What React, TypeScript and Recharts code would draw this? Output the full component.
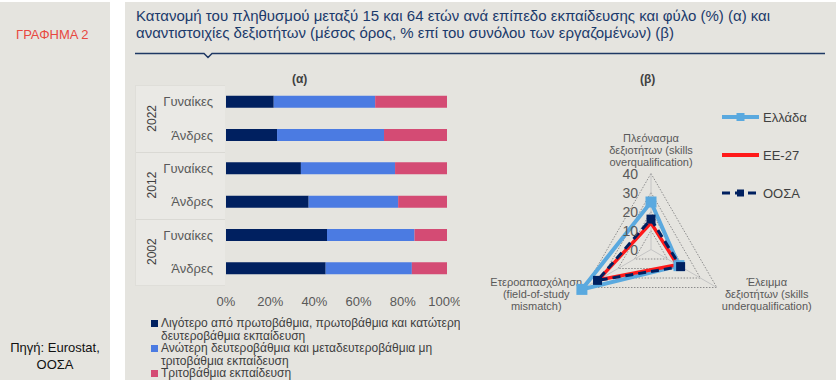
import React from 'react';
import {
  BarChart, Bar, XAxis, YAxis, Legend,
  RadarChart, Radar, PolarGrid, PolarAngleAxis, PolarRadiusAxis,
} from 'recharts';

// (α) rows top to bottom: 2022, 2012, 2002 x Γυναίκες / Άνδρες
const years = ['2022', '2012', '2002'];
const sexes = ['Γυναίκες', 'Άνδρες'];
const lowEdu = [21.6, 23.1, 33.9, 37.4, 45.7, 45.1];
const midEdu = [45.9, 48.4, 42.6, 40.5, 39.6, 39.0];
const highEdu = [32.5, 28.5, 23.5, 22.1, 14.7, 15.9];
const pctTicks = [0, 20, 40, 60, 80, 100];
const eduKeys = ['low', 'mid', 'high'];
const eduNames = [
  'Λιγότερο από πρωτοβάθμια, πρωτοβάθμια και κατώτερη\nδευτεροβάθμια εκπαίδευση',
  'Ανώτερη δευτεροβάθμια και μεταδευτεροβάθμια μη\nτριτοβάθμια εκπαίδευση',
  'Τριτοβάθμια εκπαίδευση',
];

// (β) skills mismatch
const skillAxes = [
  'Πλεόνασμα\nδεξιοτήτων (skills\noverqualification)',
  'Έλειμμα\nδεξιοτήτων (skills\nunderqualification)',
  'Ετεροαπασχόληση\n(field-of-study\nmismatch)',
];
const greece = [25, 17, 42];
const eu27 = [14, 16, 32];
const oecd = [16, 18, 32.5];
const radarTicks = [0, 10, 20, 30, 40];
const radarKeys = ['gr', 'eu', 'oecd'];

const FONT = "'Liberation Sans', Arial, sans-serif";
const NARROW = "'Liberation Sans Narrow', 'Arial Narrow', " + FONT;
const NAVY = '#002060';
const BLUE = '#4B7BE2';
const PINK = '#D44B74';
const LIGHTBLUE = '#5AA9DF';
const RED = '#FF1A1A';

const rows = years.flatMap((y, i) =>
  sexes.map((s, j) => ({
    key: `${y}|${s}`,
    low: lowEdu[i * 2 + j],
    mid: midEdu[i * 2 + j],
    high: highEdu[i * 2 + j],
  }))
);

const radarData = skillAxes.map((a, i) => ({ axis: a, gr: greece[i], eu: eu27[i], oecd: oecd[i] }));

const inOrder = (payload: any[] = [], keys: string[]) =>
  [...payload].sort((a, b) => keys.indexOf(a.dataKey) - keys.indexOf(b.dataKey));

const RowTick = (props: any) => {
  const { x, y, payload } = props;
  const [year, sex] = String(payload.value).split('|');
  return (
    <g>
      <text x={x - 13} y={y} dy={4.5} textAnchor="end" fontSize={13} fill="#595959" fontFamily={FONT}>{sex}</text>
      {sex === sexes[0] && (
        <text transform={`translate(${x - 74},${y + 16.7}) rotate(-90)`} textAnchor="middle" dy={4}
          fontSize={12} fill="#404040" fontFamily={FONT}>{year}</text>
      )}
    </g>
  );
};

const BarLegend = (props: any) => (
  <div style={{ fontFamily: FONT, fontSize: 12, color: '#404040', lineHeight: '13px' }}>
    {inOrder(props.payload, eduKeys).map((p: any, i: number) => (
      <div key={i} style={{ position: 'relative', height: 25, paddingLeft: 10, whiteSpace: 'pre' }}>
        <span style={{ position: 'absolute', left: 0, top: 3, width: 7, height: 7, background: p.color }} />
        {p.value}
      </div>
    ))}
  </div>
);

const SkillTick = (props: any) => {
  const { x, y, payload, textAnchor } = props;
  const lines = String(payload.value).split('\n');
  let cx = x;
  let ys: number[];
  if (textAnchor === 'middle') {
    ys = lines.map((_, i) => y - 4 - (lines.length - 1 - i) * 12);
  } else {
    cx = textAnchor === 'start' ? x + 43 : x - 42;
    ys = lines.map((_, i) => y - 10 + i * 12.3);
  }
  return (
    <g>
      {lines.map((l, i) => (
        <text key={i} x={cx} y={ys[i]} dy={4} textAnchor="middle" fontSize={11} fill="#595959" fontFamily={FONT}>{l}</text>
      ))}
    </g>
  );
};

const RadiusTick = (props: any) => {
  const { x, y, payload } = props;
  return (
    <text x={x - 13} y={y} dy={5} textAnchor="end" fontSize={14} fill="#595959" fontFamily={FONT}>{payload.value}</text>
  );
};

const Square = (size: number, fill: string) => (props: any) => {
  const { cx, cy, index } = props;
  if (cx == null || cy == null) return <g key={index} />;
  return <rect key={index} x={cx - size / 2} y={cy - size / 2} width={size} height={size} fill={fill} />;
};

const legendStyles: Record<string, any> = {
  gr: { stroke: LIGHTBLUE, w: 4, dash: undefined, sq: 8 },
  eu: { stroke: RED, w: 4, dash: undefined, sq: 0 },
  oecd: { stroke: NAVY, w: 3, dash: '8 5', sq: 7 },
};

const RadarLegend = (props: any) => (
  <div style={{ fontFamily: FONT, fontSize: 13, color: '#404040' }}>
    {inOrder(props.payload, radarKeys).map((p: any, i: number) => {
      const s = legendStyles[p.dataKey] || legendStyles.gr;
      return (
        <div key={i} style={{ height: 38, display: 'flex', alignItems: 'center' }}>
          <svg width={41} height={14} style={{ flex: 'none' }}>
            <line x1={0} x2={37} y1={7} y2={7} stroke={s.stroke} strokeWidth={s.w} strokeDasharray={s.dash} />
            {s.sq > 0 && <rect x={18.5 - s.sq / 2} y={7 - s.sq / 2} width={s.sq} height={s.sq} fill={s.stroke} />}
          </svg>
          <span>{p.value}</span>
        </div>
      );
    })}
  </div>
);

export default function App() {
  return (
    <div style={{ position: 'absolute', left: 0, top: 0, width: 836, height: 380, background: '#fff', overflow: 'hidden', fontFamily: FONT }}>
      {/* left panel */}
      <div style={{ position: 'absolute', left: 0, top: 2, width: 110, height: 378, background: '#E5E4DF' }}>
        <div style={{ position: 'absolute', left: 16, top: 25, fontSize: 13, color: '#E8483F', fontFamily: NARROW }}>ΓΡΑΦΗΜΑ 2</div>
        <div style={{ position: 'absolute', left: 0, width: 110, top: 337, fontSize: 13, lineHeight: '17px', color: '#111', textAlign: 'center' }}>
          Πηγή: Eurostat,<br />ΟΟΣΑ
        </div>
      </div>
      {/* main panel */}
      <div style={{ position: 'absolute', left: 125, top: 2, width: 711, height: 378, background: '#E5E4DF' }} />
      <div style={{ position: 'absolute', left: 136, top: 7, width: 700, fontSize: 15, lineHeight: '17px', color: '#1B3A6B', fontFamily: NARROW }}>
        Κατανομή του πληθυσμού μεταξύ 15 και 64 ετών ανά επίπεδο εκπαίδευσης και φύλο (%) (α) και<br />
        αναντιστοιχίες δεξιοτήτων (μέσος όρος, % επί του συνόλου των εργαζομένων) (β)
      </div>
      <svg style={{ position: 'absolute', left: 0, top: 0 }} width={836} height={70}>
        <polyline points="135,53.5 204,53.5 208,57.5 212,53.5 825,53.5" fill="none" stroke="#1F3864" strokeWidth={1.5} />
      </svg>

      {/* (α) */}
      <div style={{ position: 'absolute', left: 292, top: 72, fontSize: 12, fontWeight: 'bold', color: '#404040' }}>(α)</div>
      <div style={{ position: 'absolute', left: 135, top: 85, width: 89, height: 199, background: '#EAE9E5', border: '1px solid #DFDED9', borderRight: 'none' }}>
        <div style={{ height: 66, borderBottom: '1px solid #DAD9D4' }} />
        <div style={{ height: 66, borderBottom: '1px solid #DAD9D4' }} />
      </div>
      <div style={{ position: 'absolute', left: 130, top: 80, width: 330, height: 300, overflow: 'hidden' }}>
        <BarChart width={330} height={235} data={rows} layout="vertical" barCategoryGap="32%"
          margin={{ top: 5, right: 13, left: 0, bottom: 0 }}>
          <XAxis type="number" domain={[0, 100]} ticks={pctTicks} tickFormatter={(v) => `${v}%`}
            axisLine={false} tickLine={false} tickMargin={6} height={30}
            tick={{ fontSize: 13, fill: '#595959', fontFamily: FONT }} />
          <YAxis type="category" dataKey="key" width={96} axisLine={false} tickLine={false}
            tickSize={0} tickMargin={0} tick={<RowTick />} interval={0} />
          <Bar dataKey="low" name={eduNames[0]} stackId="a" fill={NAVY} isAnimationActive={false} />
          <Bar dataKey="mid" name={eduNames[1]} stackId="a" fill={BLUE} isAnimationActive={false} />
          <Bar dataKey="high" name={eduNames[2]} stackId="a" fill={PINK} isAnimationActive={false} />
          <Legend layout="vertical" align="center" verticalAlign="middle" content={<BarLegend />}
            wrapperStyle={{ position: 'absolute', left: 21, top: 237, width: 360, height: 80 }} />
        </BarChart>
      </div>

      {/* (β) */}
      <div style={{ position: 'absolute', left: 640, top: 72, fontSize: 12, fontWeight: 'bold', color: '#404040' }}>(β)</div>
      <div style={{ position: 'absolute', left: 470, top: 60 }}>
        <RadarChart width={366} height={300} data={radarData} cx={181} cy={189.5} outerRadius={76}
          margin={{ top: 0, right: 0, bottom: 0, left: 0 }}>
          <PolarGrid gridType="polygon" radialLines={false} stroke="#8C8C8C" strokeDasharray="1.5 1.5" />
          <PolarGrid gridType="polygon" polarRadius={[0]} stroke="#C4C4C4" />
          <PolarAngleAxis dataKey="axis" tick={<SkillTick />} tickLine={false} axisLine={false} />
          <PolarRadiusAxis angle={90} domain={[0, 40]} ticks={radarTicks as any} tickCount={5} allowDataOverflow
            axisLine={false} tick={<RadiusTick />} />
          <Radar dataKey="gr" name="Ελλάδα" stroke={LIGHTBLUE} strokeWidth={4} fill="none" fillOpacity={0}
            dot={Square(11, LIGHTBLUE)} isAnimationActive={false} />
          <Radar dataKey="eu" name="ΕΕ-27" stroke={RED} strokeWidth={3.5} fill="none" fillOpacity={0}
            dot={false} isAnimationActive={false} />
          <Radar dataKey="oecd" name="ΟΟΣΑ" stroke={NAVY} strokeWidth={3} strokeDasharray="8 5" fill="none" fillOpacity={0}
            dot={Square(9, NAVY)} isAnimationActive={false} />
          <Legend layout="vertical" align="center" verticalAlign="middle" content={<RadarLegend />}
            wrapperStyle={{ position: 'absolute', left: 252, top: 38, width: 110, height: 120 }} />
        </RadarChart>
      </div>
    </div>
  );
}
